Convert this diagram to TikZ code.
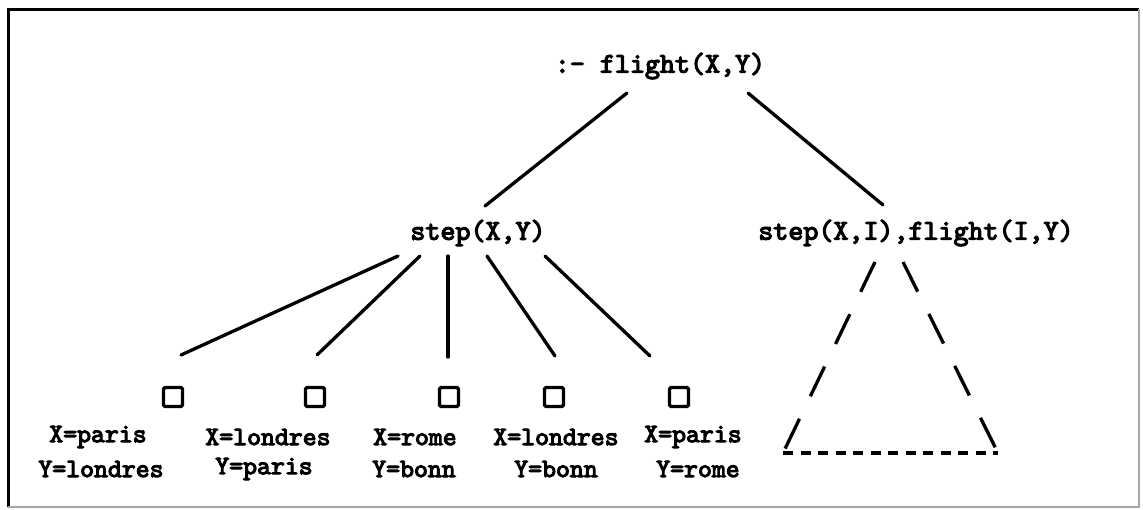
\documentclass[tikz,border=0pt]{standalone}
\usepackage{fontspec}
\newfontfamily\ttb{lmmono10-regular.otf}[FakeBold=4]
\begin{document}
\begin{tikzpicture}[x=1pt,y=-1pt,
  tree/.style={font=\fontsize{28.6}{32}\selectfont\ttb, inner sep=0pt},
  lab/.style={font=\fontsize{26.5}{30}\selectfont\ttb, inner sep=0pt},
  edge/.style={line width=3.3pt, line cap=round},
  dedge/.style={line width=3.3pt, dash pattern=on 33pt off 25pt},
  bedge/.style={line width=3.3pt, dash pattern=on 10pt off 7.5pt},
  box/.style={draw, line width=3.4pt, minimum size=19pt, inner sep=0pt, rounded corners=1.5pt}]
\useasboundingbox (0,0) rectangle (1143,509);
% frame
\draw[line width=3pt] (8,507) -- (8,9) -- (1139,9);
\draw[line width=1.6pt, gray!70] (1139,9) -- (1139,507) -- (8,507);
% nodes
\node[tree] (root) at (660,66) {:- flight(X,Y)};
\node[tree] (s1) at (478,233) {step(X,Y)};
\node[tree] (s2) at (916,233) {step(X,I),flight(I,Y)};
\node[box] (b1) at (173,397) {};
\node[box] (b2) at (315,397) {};
\node[box] (b3) at (449,397) {};
\node[box] (b4) at (554,397) {};
\node[box] (b5) at (679,397) {};
\node[lab] (x1) at (98,437) {X=paris};
\node[lab] (y1) at (101,469) {Y=londres};
\node[lab] (x2) at (268,437) {X=londres};
\node[lab] (y2) at (264,469) {Y=paris};
\node[lab] (x3) at (415,437) {X=rome};
\node[lab] (y3) at (414,469) {Y=bonn};
\node[lab] (x4) at (556,437) {X=londres};
\node[lab] (y4) at (556,469) {Y=bonn};
\node[lab] (x5) at (693,437) {X=paris};
\node[lab] (y5) at (698,469) {Y=rome};
% connector end points
\coordinate (rl) at (627,93);
\coordinate (rr) at (748,93);
\coordinate (s1t) at (485,206);
\coordinate (s2t) at (883,205);
\coordinate (a1) at (398,256); \coordinate (e1) at (181,355);
\coordinate (a2) at (420,256); \coordinate (e2) at (317,355);
\coordinate (a3) at (448,256); \coordinate (e3) at (448,357);
\coordinate (a4) at (487,256); \coordinate (e4) at (555,356);
\coordinate (a5) at (545,256); \coordinate (e5) at (650,356);
\coordinate (tl) at (875,262);
\coordinate (tr) at (903,262);
\coordinate (bl) at (783,453);
\coordinate (br) at (998,453);
% connectors
\draw[edge] (rl) -- (s1t);
\draw[edge] (rr) -- (s2t);
\foreach \i in {1,...,5} \draw[edge] (a\i) -- (e\i);
\draw[dedge] (tl) -- (bl);
\draw[dedge] (tr) -- (br);
\draw[bedge] (bl) -- (br);
\end{tikzpicture}
\end{document}
